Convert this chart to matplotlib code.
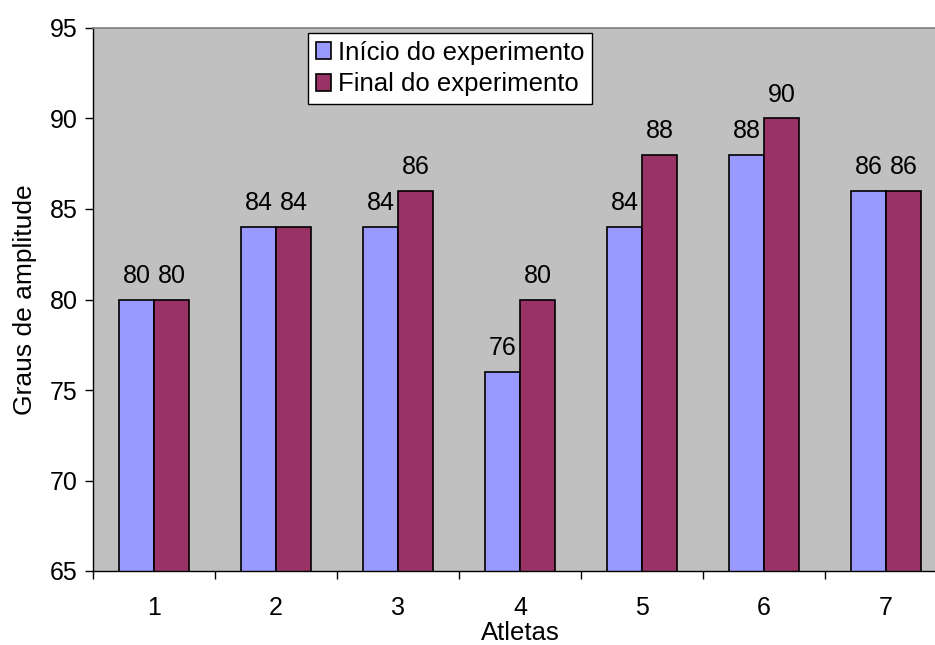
import matplotlib
matplotlib.use("Agg")
import matplotlib.pyplot as plt
import numpy as np

categories = ["1", "2", "3", "4", "5", "6", "7"]
inicio = [80, 84, 84, 76, 84, 88, 86]
final = [80, 84, 86, 80, 88, 90, 86]
series_names = ["Início do experimento", "Final do experimento"]
yticks = [65, 70, 75, 80, 85, 90, 95]

plt.rcParams['font.family'] = ['Liberation Sans', 'DejaVu Sans']

W, H = 935, 645
fig = plt.figure(figsize=(W / 100, H / 100), dpi=100)
left, right, top, bottom = 93, 947, 28, 571
ax = fig.add_axes([left / W, 1 - bottom / H, (right - left) / W, (bottom - top) / H])
ax.set_facecolor('#C0C0C0')

x = np.arange(len(categories))
bw = 35 / 122
b1 = ax.bar(x - bw / 2, inicio, bw, color='#9999FF', edgecolor='black', linewidth=1.2, label=series_names[0])
b2 = ax.bar(x + bw / 2, final, bw, color='#993366', edgecolor='black', linewidth=1.2, label=series_names[1])

for rects, vals in ((b1, inicio), (b2, final)):
    for r, v in zip(rects, vals):
        ax.annotate(str(v), (r.get_x() + r.get_width() / 2, v), xytext=(0, 8.5),
                    textcoords='offset points', ha='center', va='bottom', fontsize=18)

ax.set_xlim(-0.5, len(categories) - 0.5)
ax.set_ylim(65, 95)
ax.set_yticks(yticks)
ax.set_yticklabels([str(t) for t in yticks], fontsize=18)
ax.set_xticks(x)
ax.set_xticklabels(categories, fontsize=18)
ax.set_xticks(np.arange(-0.5, len(categories), 1), minor=True)
ax.tick_params(axis='x', which='major', length=0, pad=18)
ax.tick_params(axis='x', which='minor', length=6, width=1, direction='out')
ax.tick_params(axis='y', length=6, width=1, direction='out', pad=5)

ax.spines['right'].set_visible(False)
ax.spines['top'].set_color('#808080')
ax.spines['top'].set_linewidth(1.2)
ax.spines['left'].set_linewidth(1)
ax.spines['bottom'].set_linewidth(1)

ax.set_ylabel("Graus de amplitude", fontsize=19, labelpad=9)
ax.set_xlabel("Atletas", fontsize=18.5, labelpad=1)

leg = ax.legend(loc='upper left', bbox_to_anchor=((308 - left) / (right - left), (bottom - 33) / (bottom - top)),
                fontsize=18.5, frameon=True, fancybox=False, framealpha=1, edgecolor='black',
                handlelength=0.6, handleheight=0.6, handletextpad=0.25, borderpad=0.3,
                labelspacing=0.3, borderaxespad=0)
leg.get_frame().set_linewidth(1)

fig.savefig("out.png", dpi=100)
